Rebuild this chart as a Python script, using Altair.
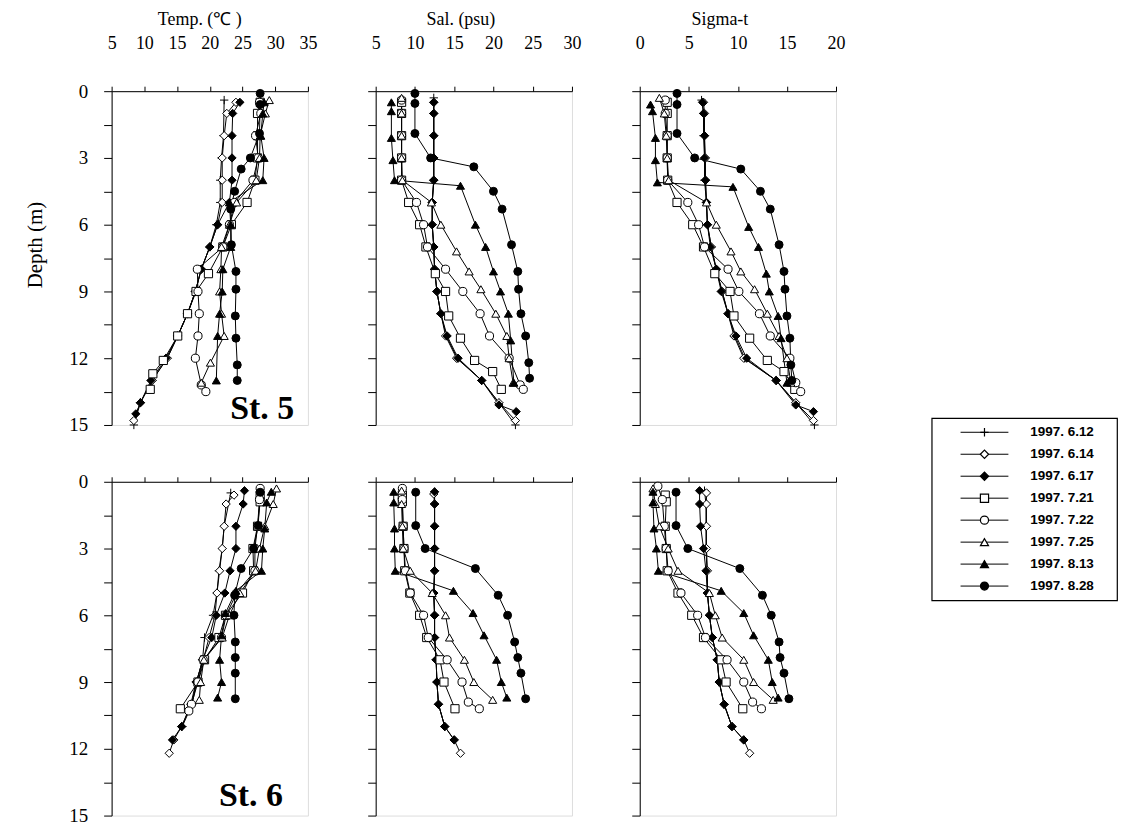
import altair as alt
import pandas as pd

SERIES = ["1997. 6.12", "1997. 6.14", "1997. 6.17", "1997. 7.21",
          "1997. 7.22", "1997. 7.25", "1997. 8.13", "1997. 8.28"]

# ---------------- St. 5 ----------------
ST5_DEPTH_T = [
    [0.4, 2, 3, 4, 5, 6, 7, 8, 9, 10, 11, 12, 13, 14, 15],
    [0.5, 1, 2, 3, 4, 5, 6, 7, 8, 9, 10, 11, 12, 13, 14, 14.8],
    [0.5, 1, 2, 3, 4, 5, 6, 7, 8, 9, 10, 11, 12, 13, 14, 14.5],
    [0.5, 1, 2, 3, 4, 5, 6, 7, 8.2, 9, 10, 11, 12.1, 12.7, 13.4],
    [0.5, 1, 2, 3, 4, 5, 6, 7, 8, 9, 10, 11, 12, 13.2, 13.5],
    [0.4, 1, 2, 3, 4, 5, 6, 7, 8, 9, 10, 11, 12.2, 13.1],
    [0.5, 1, 2, 3, 4, 5, 6, 7, 8, 9, 10, 11, 13],
    [0.1, 0.6, 1.9, 3.0, 3.5, 4.5, 5.3, 6.9, 8.1, 8.9, 10.1, 11.1, 12.3, 13.0],
]
ST5_TEMP = [
    [22.2, 22.1, 21.8, 21.6, 21.6, 21.0, 20.0, 18.7, 17.8, 16.6, 15.1, 13.5, 11.2, 9.4, 8.4],
    [24.0, 22.6, 22.2, 21.9, 21.9, 21.9, 21.2, 20.0, 18.7, 17.8, 16.6, 15.1, 13.5, 11.2, 9.4, 8.4],
    [24.6, 23.5, 23.4, 23.4, 23.4, 23.0, 21.2, 20.0, 18.7, 17.8, 16.6, 15.1, 13.3, 11.0, 9.4, 8.7],
    [27.7, 27.3, 27.3, 27.3, 26.9, 25.7, 23.3, 22.0, 19.8, 17.9, 16.6, 15.1, 12.9, 11.3, 10.9],
    [27.6, 27.8, 27.0, 27.4, 26.6, 23.8, 23.0, 22.0, 18.1, 18.2, 18.4, 18.2, 17.8, 18.7, 19.4],
    [29.1, 28.5, 27.7, 27.6, 27.1, 24.1, 23.0, 21.8, 21.7, 21.5, 21.8, 22.2, 20.1, 18.7],
    [28.3, 28.1, 27.8, 28.3, 28.1, 23.0, 23.2, 23.2, 22.0, 21.9, 21.5, 21.2, 21.0],
    [27.7, 27.7, 27.6, 26.2, 24.8, 23.8, 23.2, 23.3, 24.0, 24.0, 23.9, 24.0, 24.2, 24.2],
]
ST5_DEPTH_S = [
    [0.3, 1, 2, 3, 4, 5, 6, 7, 8, 9, 10, 11, 12, 13, 14, 15],
    [0.5, 1, 2, 3, 4, 5, 6, 7, 8, 9, 10, 11, 12, 13, 14, 14.8],
    [0.5, 1, 2, 3, 4, 5, 6, 7, 8, 9, 10, 11, 12, 13, 14.1, 14.4],
    [0.5, 1, 2, 3, 4, 5, 6, 7, 8.2, 9, 10.1, 11.1, 12.1, 12.6, 13.4],
    [0.4, 1, 2, 3, 4, 5, 6, 7, 8, 9, 10, 11, 12, 13.2, 13.4],
    [0.3, 1, 2, 3, 4, 5, 6, 7.2, 8.1, 8.9, 10, 11, 12, 13.1],
    [0.5, 0.9, 2.1, 3.1, 4.0, 4.25, 6.0, 7.0, 8.1, 9.0, 10.0, 11.2, 13.1],
    [0.1, 0.55, 1.9, 3.0, 3.4, 4.5, 5.3, 6.9, 8.1, 8.9, 10, 11, 12.2, 12.9],
]
ST5_SAL = [
    [12.4, 12.4, 12.4, 12.4, 12.4, 12.2, 12.2, 12.4, 12.5, 12.8, 13.3, 14.0, 15.4, 18.5, 20.7, 22.8],
    [12.4, 12.4, 12.4, 12.4, 12.4, 12.2, 12.2, 12.4, 12.5, 12.8, 13.3, 13.9, 15.3, 18.5, 20.7, 22.8],
    [12.4, 12.4, 12.4, 12.4, 12.4, 12.2, 12.2, 12.4, 12.5, 12.8, 13.3, 14.1, 15.5, 18.5, 20.7, 22.9],
    [8.3, 8.3, 8.3, 8.3, 8.3, 9.2, 10.6, 11.4, 12.6, 13.9, 14.3, 15.8, 17.6, 19.9, 21.0],
    [8.3, 8.3, 8.3, 8.3, 8.3, 10.2, 11.1, 11.6, 13.9, 16.1, 18.3, 19.5, 22.0, 23.4, 23.8],
    [8.3, 8.3, 8.3, 8.3, 8.4, 12.1, 13.3, 15.3, 16.9, 18.4, 20.3, 21.7, 22.0, 22.5],
    [7.0, 7.0, 7.0, 7.2, 7.4, 15.8, 17.7, 19.0, 20.0, 20.9, 21.9, 22.2, 22.6],
    [10.0, 10.0, 10.0, 12.0, 17.5, 20.0, 21.1, 22.3, 23.1, 23.2, 23.5, 24.1, 24.5, 24.6],
]
ST5_DEPTH_G = [
    [0.4, 1, 2, 3, 4, 5, 6, 7, 8, 9, 10, 11, 12, 13, 14, 15],
    [0.5, 1, 2, 3, 4, 5, 6, 7, 8, 9, 10, 11, 12, 13, 14, 14.8],
    [0.5, 1, 2, 3, 4, 5, 6, 7, 8, 9, 10, 11, 12, 13, 14.1, 14.4],
    [0.5, 1, 2, 3, 4, 5, 6, 7, 8.2, 9, 10.1, 11.1, 12.1, 12.6, 13.4],
    [0.4, 1, 2, 3, 4, 5, 6, 7, 8, 9, 10, 11, 12, 13.1, 13.5],
    [0.3, 1, 2, 3, 4, 5, 6, 7.2, 8.1, 8.9, 10, 11, 12, 13.1],
    [0.6, 0.9, 2.1, 3.1, 4.1, 4.3, 6.1, 7.0, 8.2, 9.0, 10.1, 11.1, 13.1],
    [0.1, 0.6, 1.9, 3.0, 3.5, 4.5, 5.3, 6.9, 8.1, 8.9, 10.1, 11.1, 12.3, 13.0],
]
ST5_SIGMA = [
    [6.3, 6.5, 6.5, 6.6, 6.6, 6.8, 6.9, 7.3, 7.8, 8.4, 9.0, 9.7, 10.7, 13.9, 15.9, 17.8],
    [6.5, 6.6, 6.6, 6.7, 6.7, 6.8, 6.9, 7.3, 7.8, 8.4, 9.0, 9.6, 10.6, 13.9, 15.9, 17.7],
    [6.4, 6.5, 6.6, 6.6, 6.7, 6.8, 6.9, 7.2, 7.8, 8.3, 9.0, 9.8, 10.9, 13.9, 15.9, 17.7],
    [2.8, 2.8, 2.8, 2.8, 2.85, 3.8, 5.4, 6.5, 7.65, 9.2, 9.6, 11.2, 13.0, 14.7, 15.8],
    [2.6, 2.6, 2.8, 2.8, 2.85, 4.9, 6.0, 6.6, 9.0, 10.1, 12.2, 13.3, 15.3, 15.9, 16.4],
    [2.0, 2.5, 2.7, 2.8, 2.95, 6.8, 7.8, 9.3, 10.3, 11.7, 13.0, 14.2, 15.0, 15.4],
    [1.1, 1.3, 1.6, 1.6, 1.8, 9.5, 11.1, 12.1, 12.9, 13.2, 14.1, 14.4, 15.0],
    [3.8, 3.8, 3.8, 5.6, 10.3, 12.3, 13.3, 14.2, 14.7, 14.8, 15.0, 15.3, 15.4, 15.5],
]

# ---------------- St. 6 ----------------
ST6_DEPTH_T = [
    [0.5, 2, 3, 4, 5, 6, 7, 8, 9, 10, 11],
    [0.6, 1, 2, 3, 4, 5, 6, 7, 8, 9, 10, 11, 11.6, 12.2],
    [0.4, 1, 2, 3, 4, 5, 6, 7, 8, 9, 10, 11, 11.6],
    [0.6, 0.9, 2, 3, 4, 5, 6, 7, 8, 9, 10.2],
    [0.3, 0.8, 2, 3, 4, 5, 6, 7, 8, 9, 10, 10.3],
    [0.3, 1, 2, 3, 4, 5, 6, 7, 8, 9, 9.8],
    [0.45, 0.93, 2.1, 3.0, 4.0, 4.9, 5.9, 6.9, 8.0, 9.0, 9.7],
    [0.47, 1.97, 3.0, 3.9, 5.1, 6.0, 7.2, 7.9, 8.6, 9.75],
]
ST6_TEMP = [
    [23.2, 22.2, 21.9, 21.4, 21.1, 20.5, 19.2, 18.9, 18.0, 17.3, 15.8],
    [23.7, 22.5, 22.2, 21.9, 21.5, 21.1, 20.8, 19.9, 19.0, 17.9, 17.1, 15.7, 14.5, 13.8],
    [25.3, 25.1, 24.0, 24.0, 23.1, 22.3, 21.0, 20.3, 18.9, 18.0, 17.2, 15.7, 14.3],
    [27.7, 27.7, 27.3, 26.6, 26.7, 25.0, 22.4, 21.4, 19.2, 18.2, 15.5],
    [27.7, 27.6, 27.3, 26.9, 26.9, 24.1, 22.5, 21.8, 19.0, 18.2, 17.2, 16.8],
    [30.2, 29.7, 28.4, 27.6, 27.0, 24.6, 23.0, 21.9, 19.1, 18.6, 18.4],
    [29.4, 28.7, 28.4, 28.1, 27.9, 24.0, 22.4, 21.8, 21.5, 21.8, 21.2],
    [27.7, 27.4, 26.7, 24.8, 23.8, 23.7, 23.9, 23.9, 23.9, 23.9],
]
ST6_DEPTH_S = [
    [0.45, 1, 2, 3, 4, 5, 6, 7, 8, 9, 10, 11],
    [0.55, 1, 2, 3, 4, 5, 6, 7, 8, 9, 10, 11, 11.6, 12.2],
    [0.45, 1, 2, 3, 4, 5, 6, 7, 8, 9, 10, 11, 11.6],
    [0.6, 0.9, 2, 3, 4, 5, 6, 7, 8, 9, 10.2],
    [0.3, 0.8, 2, 3, 4, 5, 6, 7, 8, 9, 9.9, 10.2],
    [0.4, 1, 2, 3, 4, 5, 6, 7, 8, 9, 9.8],
    [0.45, 0.93, 2.1, 3.0, 4.0, 4.9, 5.9, 6.9, 8.0, 9.0, 9.7],
    [0.47, 1.97, 3.0, 3.9, 5.1, 6.0, 7.2, 7.9, 8.6, 9.75],
]
ST6_SAL = [
    [12.5, 12.5, 12.5, 12.5, 12.5, 12.4, 12.5, 12.5, 12.7, 12.8, 13.0, 13.8],
    [12.4, 12.5, 12.5, 12.5, 12.5, 12.4, 12.5, 12.5, 12.7, 12.8, 13.0, 13.8, 15.0, 15.8],
    [12.5, 12.5, 12.5, 12.5, 12.5, 12.4, 12.5, 12.5, 12.7, 12.8, 13.0, 13.8, 15.0],
    [8.4, 8.4, 8.5, 8.6, 8.7, 9.35, 10.6, 11.5, 13.2, 13.7, 15.1],
    [8.4, 8.4, 8.5, 8.6, 8.8, 9.4, 11.1, 11.7, 14.1, 16.0, 16.8, 18.2],
    [8.3, 8.3, 8.4, 8.5, 9.4, 12.2, 13.9, 14.4, 16.3, 17.5, 19.9],
    [7.3, 7.3, 7.4, 7.4, 7.5, 14.9, 17.4, 18.8, 20.4, 21.0, 21.7],
    [10.1, 10.1, 11.3, 17.7, 20.6, 21.8, 22.7, 23.1, 23.5, 24.1],
]
ST6_DEPTH_G = [
    [0.4, 1, 2, 3, 4, 5, 6, 7, 8, 9, 10, 11],
    [0.5, 1, 2, 3, 4, 5, 6, 7, 8, 9, 10, 11, 11.6, 12.2],
    [0.4, 1, 2, 3, 4, 5, 6, 7, 8, 9, 10, 11, 11.6],
    [0.6, 0.9, 2, 3, 4, 5, 6, 7, 8, 9, 10.2],
    [0.2, 0.8, 2, 3, 4, 5, 6, 7, 8, 9, 9.9, 10.2],
    [0.3, 1, 2, 3, 4, 5, 6, 7, 8, 9, 9.8],
    [0.45, 0.93, 2.1, 3.0, 4.0, 4.9, 5.9, 6.9, 8.0, 9.0, 9.7],
    [0.47, 1.97, 3.0, 3.9, 5.1, 6.0, 7.2, 7.9, 8.6, 9.75],
]
ST6_SIGMA = [
    [6.6, 6.75, 6.75, 6.75, 6.85, 6.9, 7.1, 7.4, 7.9, 8.1, 8.6, 9.4],
    [6.8, 6.8, 6.8, 6.8, 6.9, 6.9, 7.1, 7.4, 7.9, 8.1, 8.6, 9.4, 10.6, 11.2],
    [6.1, 6.1, 6.2, 6.5, 6.75, 6.9, 7.1, 7.4, 7.9, 8.1, 8.6, 9.4, 10.6],
    [2.6, 2.7, 2.6, 2.7, 2.8, 3.9, 5.3, 6.5, 8.3, 8.8, 10.5],
    [1.85, 2.3, 2.5, 2.7, 2.9, 4.2, 5.9, 6.7, 8.9, 10.6, 11.5, 12.4],
    [1.35, 1.6, 2.0, 2.9, 3.9, 7.1, 7.7, 8.4, 10.6, 11.6, 13.6],
    [1.35, 1.35, 1.45, 1.7, 1.9, 8.3, 10.6, 11.6, 13.1, 13.5, 14.1],
    [3.7, 3.7, 4.9, 10.2, 12.5, 13.4, 14.2, 14.3, 14.7, 15.2],
]

TEMP_TICKS = [5, 10, 15, 20, 25, 30, 35]
SAL_TICKS = [5, 10, 15, 20, 25, 30]
SIGMA_TICKS = [0, 5, 10, 15, 20]
DEPTH_TICKS = [0, 1.5, 3, 4.5, 6, 7.5, 9, 10.5, 12, 13.5, 15]

SERIF = "Liberation Serif"
SANS = "Liberation Sans"
PLUS = "M-1,0L1,0M0,-1L0,1"
SHAPES = [PLUS, "diamond", "diamond", "square", "circle", "triangle-up", "triangle-up", "circle"]
FILLS = ["white", "white", "black", "white", "white", "white", "black", "black"]
SIZES = [70, 64, 64, 56, 72, 60, 60, 90]
LEG_SIZES = [190, 180, 180, 150, 190, 150, 150, 230]

W, H = 197, 335


def frame(depths, values):
    rows = []
    for s, ds, vs in zip(SERIES, depths, values):
        assert len(ds) == len(vs), s
        for i, (d, v) in enumerate(zip(ds, vs)):
            rows.append({"s": s, "d": d, "v": v, "i": i})
    return pd.DataFrame(rows)


def panel(depths, values, xdom, xticks, top, left, xtitle=None, title_x=None, ytitle=None, note=None):
    df = frame(depths, values)
    xa = dict(orient="top", values=xticks, labels=top, tickSize=5, tickColor="black",
              domainColor="black", labelFlush=False, labelOverlap=False, grid=False,
              labelFont=SERIF, labelFontSize=18, labelColor="black", labelPadding=34)
    if top:
        xa.update(title=xtitle, titleFont=SERIF, titleFontSize=18, titleFontWeight="normal",
                  titleColor="black", titlePadding=6, titleX=title_x)
    else:
        xa.update(title=None)
    ya = dict(values=DEPTH_TICKS, labels=left, tickSize=8, tickColor="black",
              domainColor="black", labelOverlap=False, grid=False,
              labelFont=SERIF, labelFontSize=19, labelColor="black", labelPadding=16,
              labelExpr="datum.value % 3 === 0 ? datum.label : ''")
    if ytitle:
        ya.update(title=ytitle, titleFont=SERIF, titleFontSize=21, titleFontWeight="normal",
                  titleColor="black", titlePadding=23, titleY=154)
    else:
        ya.update(title=None)
    x = alt.X("v:Q", scale=alt.Scale(domain=xdom, nice=False, zero=False), axis=alt.Axis(**xa))
    y = alt.Y("d:Q", scale=alt.Scale(domain=[0, 15], reverse=True, nice=False, zero=False),
              axis=alt.Axis(**ya))
    base = alt.Chart(df)
    lines = base.mark_line(color="black", strokeWidth=1).encode(
        x=x, y=y, detail="s:N", order="i:Q")
    pts = base.mark_point(filled=True, stroke="black", strokeWidth=1, opacity=1).encode(
        x=x, y=y,
        shape=alt.Shape("s:N", scale=alt.Scale(domain=SERIES, range=SHAPES), legend=None),
        fill=alt.Fill("s:N", scale=alt.Scale(domain=SERIES, range=FILLS), legend=None),
        size=alt.Size("s:N", scale=alt.Scale(domain=SERIES, range=SIZES), legend=None),
    )
    layers = [lines, pts]
    if note:
        label, nx, ny = note
        note_df = pd.DataFrame({"t": [label], "v": [nx], "d": [ny]})
        layers.append(alt.Chart(note_df).mark_text(
            font=SERIF, fontSize=34, fontWeight="bold", color="black",
            align="center", baseline="middle").encode(x=x, y=y, text="t:N"))
    return alt.layer(*layers).properties(width=W, height=H)


A = panel(ST5_DEPTH_T, ST5_TEMP, [5, 35], TEMP_TICKS, True, True, "Temp. (\u2103 )", 88,
          "Depth (m)", ("St. 5", 28.0, 14.3))
B = panel(ST5_DEPTH_S, ST5_SAL, [5, 30], SAL_TICKS, True, False, "Sal. (psu)", 85)
C = panel(ST5_DEPTH_G, ST5_SIGMA, [0, 20], SIGMA_TICKS, True, False, "Sigma-t", 80)
D = panel(ST6_DEPTH_T, ST6_TEMP, [5, 35], TEMP_TICKS, False, True, note=("St. 6", 26.3, 14.1))
E = panel(ST6_DEPTH_S, ST6_SAL, [5, 30], SAL_TICKS, False, False)
F = panel(ST6_DEPTH_G, ST6_SIGMA, [0, 20], SIGMA_TICKS, False, False)

grid = alt.concat(A, B, C, D, E, F, columns=3, spacing={"row": 57, "column": 68}, bounds="flush")

# legend
leg_df = pd.DataFrame({"s": SERIES})
ly = alt.Y("s:N", sort=SERIES, scale=alt.Scale(type="point", padding=0.65), axis=None)
leg_rules = alt.Chart(leg_df).mark_rule(color="black", strokeWidth=1).encode(
    y=ly, x=alt.value(29), x2=alt.value(77))
leg_pts = alt.Chart(leg_df).mark_point(filled=True, stroke="black", strokeWidth=1.2, opacity=1).encode(
    y=ly, x=alt.value(53),
    shape=alt.Shape("s:N", scale=alt.Scale(domain=SERIES, range=SHAPES), legend=None),
    fill=alt.Fill("s:N", scale=alt.Scale(domain=SERIES, range=FILLS), legend=None),
    size=alt.Size("s:N", scale=alt.Scale(domain=SERIES, range=LEG_SIZES), legend=None),
)
leg_txt = alt.Chart(leg_df).mark_text(align="left", baseline="middle", font=SANS, fontSize=13.5,
                                      fontWeight="bold", color="black").encode(
    y=ly, x=alt.value(99), text="s:N")
legend = alt.layer(leg_rules, leg_pts, leg_txt).properties(
    width=186, height=183, view=alt.ViewBackground(stroke="black", strokeWidth=1.2))

spacer = alt.Chart(pd.DataFrame({"a": [0]})).mark_point(opacity=0).properties(width=186, height=327)
legend_col = alt.vconcat(spacer, legend, spacing=0)

chart = alt.hconcat(grid, legend_col, spacing=85).properties(
    padding={"left": 16, "top": 0, "right": 0, "bottom": 0}).configure_view(
    strokeWidth=0).configure_axis(labelOverlap=False).configure(background="white")

chart.save("out.html", embed_options={"renderer": "svg", "actions": False})
